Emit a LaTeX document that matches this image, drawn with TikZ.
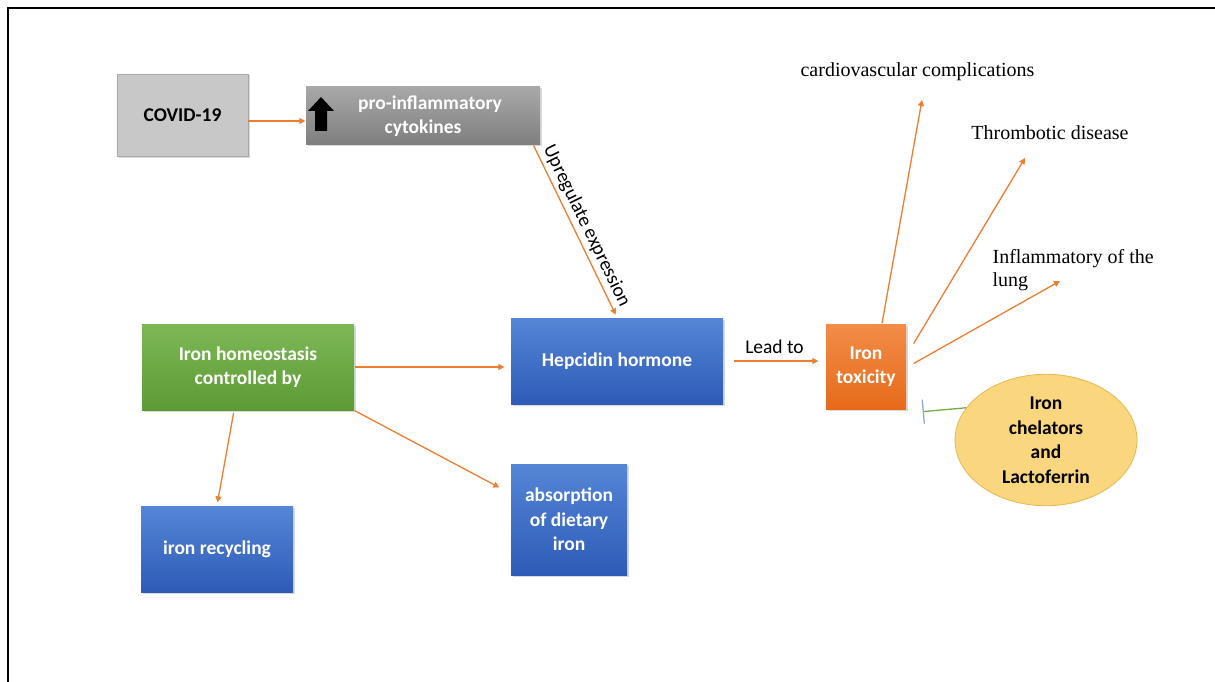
\documentclass[tikz,border=0pt]{standalone}
\usepackage{fontspec}
\setmainfont{Carlito}
\newfontfamily\timesfont{Liberation Serif}
\usetikzlibrary{arrows.meta,shapes.geometric,shadows}
\definecolor{arrowor}{HTML}{ED7D31}
\definecolor{covidgray}{HTML}{C8C8C8}
\definecolor{covidedge}{HTML}{A8A8A8}
\definecolor{cytotop}{HTML}{A8A8A8}
\definecolor{cytobot}{HTML}{7E7E7E}
\definecolor{bluetop}{HTML}{5586D6}
\definecolor{bluebot}{HTML}{2D5BB7}
\definecolor{greentop}{HTML}{7DB856}
\definecolor{greenbot}{HTML}{5C9B34}
\definecolor{orangetop}{HTML}{F28C48}
\definecolor{orangebot}{HTML}{E76A1A}
\definecolor{chelfill}{HTML}{FAD67E}
\definecolor{cheledge}{HTML}{E9B64E}
\definecolor{inhibgreen}{HTML}{70AD47}
\definecolor{bargray}{HTML}{8FA9C8}

\begin{document}
\begin{tikzpicture}[x=1pt, y=-1pt,
	every path/.style={line width=1.3pt},
	arr/.style={draw=arrowor, -{Triangle[length=6pt, width=6pt]}},
	box/.style={rectangle, inner sep=2pt, align=center, text=white,
				font=\bfseries\fontsize{19.5}{24.5}\selectfont,
				drop shadow={opacity=0.3, shadow xshift=1.5pt, shadow yshift=-1.5pt}},
	bluebox/.style={box, top color=bluetop, bottom color=bluebot},
	lbl/.style={font=\timesfont\fontsize{20}{23}\selectfont, align=left, inner sep=0}]
	\useasboundingbox (0,0) rectangle (1215,682);
	\draw[line width=2.3pt] (8,682) -- (8,8.3) -- (1215,8.3);

	\node[box, text=black, fill=covidgray, draw=covidedge, line width=0.8pt,
		minimum width=131, minimum height=82] (covid) at (182.5,115) {COVID-19};
	\node[box, top color=cytotop, bottom color=cytobot,
		minimum width=234, minimum height=58] (cyto) at (423,116)
		{\hspace*{14pt}pro-inflammatory\\cytokines};
	\fill[black] (321,97) -- (334,111) -- (327,111) -- (327,131) -- (315,131)
		-- (315,111) -- (308,111) -- cycle;

	\node[box, top color=greentop, bottom color=greenbot,
		minimum width=212, minimum height=86] (homeo) at (248,367)
		{Iron homeostasis\\controlled by};
	\node[bluebox, minimum width=212, minimum height=86] (hepc) at (617,361)
		{Hepcidin hormone};
	\node[bluebox, minimum width=152, minimum height=86] (recyc) at (217,549)
		{iron recycling};
	\node[bluebox, minimum width=116, minimum height=111] (absorb) at (569,519.5)
		{absorption\\of dietary\\iron};
	\node[box, top color=orangetop, bottom color=orangebot,
		minimum width=80, minimum height=85] (tox) at (866,366.5)
		{Iron\\toxicity};
	\node[ellipse, fill=chelfill, draw=cheledge, line width=0.8pt, align=center,
		font=\bfseries\fontsize{19.5}{24.5}\selectfont,
		minimum width=182, minimum height=115] (chel) at (1046,440)
		{Iron\\chelators\\and\\Lactoferrin};

	\node[lbl] (cardio) at (917.5,72) {cardiovascular complications};
	\node[lbl] (thromb) at (1050,133) {Thrombotic disease};
	\node[lbl, anchor=west] (inflam) at (992,270) {Inflammatory of the\\lung};
	\coordinate (cardtip) at (922,100);
	\coordinate (thrombtip) at (1025,158);
	\coordinate (inflamtip) at (1060,281);

	\draw[arr] ([yshift=-6]covid.east) -- ([yshift=-6]covid.east -| cyto.west);
	\draw[arr, shorten >=3pt] ([xshift=-7]cyto.south east) -- (hepc.north)
		node[midway, sloped, above, black, font=\fontsize{19.5}{23}\selectfont]
		{Upregulate expression};
	\draw[arr, shorten >=6pt] (homeo.east) -- (homeo.east -| hepc.west);
	\draw[arr, shorten <=2pt, shorten >=3pt] ([xshift=-14]homeo.south) -- (recyc.north);
	\draw[arr] (homeo.south east) -- ([shift={(-11,-32)}]absorb.west);
	\draw[arr, shorten <=10pt, shorten >=7pt] (hepc.east) -- (hepc.east -| tox.west)
		node[midway, above=3pt, black, font=\fontsize{19.5}{23}\selectfont] {Lead to};
	\draw[arr] ([xshift=16]tox.north) -- (cardtip);
	\draw[arr] ([shift={(7,-23)}]tox.east) -- (thrombtip);
	\draw[arr] ([shift={(7,-3)}]tox.east) -- (inflamtip);
	\draw[draw=inhibgreen, -{Bar[width=24pt, color=bargray]}]
		(chel.158) -- ([shift={(16,2)}]tox.south east);
\end{tikzpicture}
\end{document}
